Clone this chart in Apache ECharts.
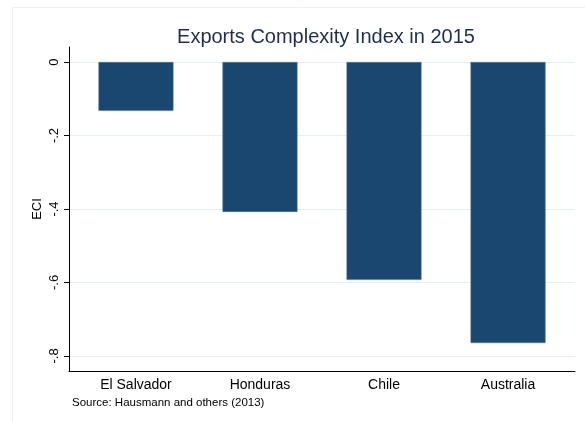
<!DOCTYPE html>
<html>
<head>
<meta charset="utf-8">
<script src="https://cdn.jsdelivr.net/npm/echarts@6/dist/echarts.min.js"></script>
<style>
  html, body { margin: 0; padding: 0; background: #fff; }
  #chart { width: 585px; height: 421px; }
</style>
</head>
<body>
<div id="chart"></div>
<script>
const countries = ["El Salvador", "Honduras", "Chile", "Australia"];
const eci = [-0.133, -0.408, -0.593, -0.765];
const yTicks = [0, -0.2, -0.4, -0.6, -0.8];
const xPositions = [1, 2, 3, 4];

const font = "Liberation Sans, Arial, sans-serif";

const chart = echarts.init(document.getElementById("chart"), null, { renderer: "canvas" });

chart.setOption({
  backgroundColor: "#fff",
  animation: false,
  title: {
    text: "Exports Complexity Index in 2015",
    left: 321,
    top: 22,
    textAlign: "center",
    textStyle: { fontFamily: font, fontSize: 20, fontWeight: "normal", color: "#1f2d4f" },
  },
  graphic: [
    {
      type: "rect",
      shape: { x: 12.5, y: 7.5, width: 600, height: 500 },
      style: { fill: "none", stroke: "#eef1f4", lineWidth: 1 },
      z: -1,
    },
    {
      type: "text",
      left: 72,
      top: 397,
      style: { text: "Source: Hausmann and others (2013)", font: "11.5px " + font, fill: "#000" },
    },
  ],
  grid: { left: 69, right: 10, top: 47, bottom: 50 },
  xAxis: {
    type: "value",
    min: 0.46,
    max: 4.54,
    axisLine: { show: true, onZero: false, lineStyle: { color: "#000", width: 1 } },
    axisTick: { show: false },
    splitLine: { show: false },
    axisLabel: {
      customValues: xPositions,
      formatter: (v) => countries[Math.round(v) - 1] || "",
      fontFamily: font,
      fontSize: 14,
      color: "#000",
      margin: 7,
    },
  },
  yAxis: {
    type: "value",
    min: -0.841,
    max: 0.041,
    name: "ECI",
    nameLocation: "middle",
    nameGap: 25,
    nameMoveOverlap: false,
    nameTextStyle: { fontFamily: font, fontSize: 13, color: "#000" },
    axisLine: { show: true, onZero: false, lineStyle: { color: "#000", width: 1 } },
    axisTick: { show: true, customValues: yTicks, length: 5, lineStyle: { color: "#000" } },
    splitLine: { show: true, lineStyle: { color: "#e6eff3", width: 1 } },
    axisLabel: {
      customValues: yTicks,
      rotate: 90,
      margin: 8,
      fontFamily: font,
      fontSize: 13,
      color: "#000",
      formatter: (v) => (v === 0 ? "0" : String(Number(v.toFixed(1))).replace("0.", ".")),
    },
  },
  series: [
    {
      type: "bar",
      barWidth: 75,
      data: xPositions.map((x, i) => [x, eci[i]]),
      itemStyle: { color: "#1a476f", borderColor: "#4f7394", borderWidth: 0.6 },
    },
  ],
});
</script>
</body>
</html>
